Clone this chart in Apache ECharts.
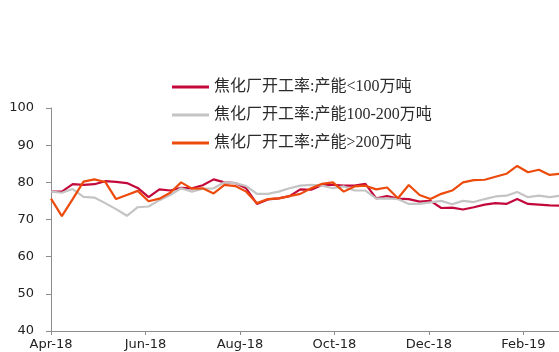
<!DOCTYPE html>
<html>
<head>
<meta charset="utf-8">
<script src="https://cdn.jsdelivr.net/npm/echarts@6/dist/echarts.min.js"></script>
<style>
html,body{margin:0;padding:0;background:#fff;}
#chart{width:559px;height:352px;}
</style>
</head>
<body>
<div id="chart"></div>
<script>
// Weekly observation dates
var dates = [
'2018-04-01','2018-04-08','2018-04-15','2018-04-22','2018-04-29','2018-05-06','2018-05-13','2018-05-20',
'2018-05-27','2018-06-03','2018-06-10','2018-06-17','2018-06-24','2018-07-01','2018-07-08','2018-07-15',
'2018-07-22','2018-07-29','2018-08-05','2018-08-12','2018-08-19','2018-08-26','2018-09-02','2018-09-09',
'2018-09-16','2018-09-23','2018-09-30','2018-10-07','2018-10-14','2018-10-21','2018-10-28','2018-11-04',
'2018-11-11','2018-11-18','2018-11-25','2018-12-02','2018-12-09','2018-12-16','2018-12-23','2018-12-30',
'2019-01-06','2019-01-13','2019-01-20','2019-01-27','2019-02-03','2019-02-10','2019-02-17','2019-02-24'
];
var seriesNames = ['焦化厂开工率:产能<100万吨','焦化厂开工率:产能100-200万吨','焦化厂开工率:产能>200万吨'];
var small = [77.5,77.5,79.5,79.3,79.5,80.3,80.1,79.8,78.5,76.0,78.1,77.8,78.5,78.4,79.2,80.8,
80.0,79.8,78.4,74.2,75.4,75.7,76.3,78.1,78.0,79.3,79.3,79.1,79.1,79.6,75.7,76.3,
75.6,75.5,74.8,75.0,73.1,73.2,72.7,73.3,74.0,74.4,74.2,75.5,74.2,74.0,73.8,73.7];
var medium = [77.5,77.2,78.2,76.1,75.9,74.4,72.8,71.0,73.3,73.5,75.2,76.6,78.4,77.5,78.3,78.4,
80.0,79.8,79.0,76.9,76.9,77.5,78.4,79.1,79.3,79.1,78.4,78.9,77.8,77.8,75.6,75.7,
75.5,74.2,74.2,74.6,75.0,74.1,75.0,74.7,75.5,76.2,76.4,77.4,76.0,76.4,76.0,76.4];
var large = [75.6,70.9,75.5,80.2,80.8,80.1,75.5,76.6,77.7,74.9,75.6,77.2,80.0,78.3,78.4,77.0,
79.3,79.0,77.5,74.4,75.5,75.7,76.3,76.9,78.4,79.6,80.0,77.5,78.9,79.1,78.1,78.6,
75.7,79.3,76.6,75.5,76.9,77.8,80.0,80.6,80.7,81.5,82.3,84.4,82.7,83.4,82.0,82.3];
var xTickLabels = ['Apr-18','Jun-18','Aug-18','Oct-18','Dec-18','Feb-19'];
var yTicks = [40,50,60,70,80,90,100];

var DAY = 86400000;
var t0 = Date.parse(dates[0] + 'T00:00:00Z');
function dayOf(d){ return Math.round((Date.parse(d + 'T00:00:00Z') - t0) / DAY); }
function pairs(vals){ return vals.map(function(v,i){ return [dayOf(dates[i]), v]; }); }
var xTickValues = xTickLabels.map(function(l,i){ return i*61; });

var colors = ['#C3093B','#C4C4C4','#EC4B0C'];
var chart = echarts.init(document.getElementById('chart'), null, {renderer:'canvas'});
var axisFont = "'DejaVu Sans', sans-serif";
chart.setOption({
  animation:false,
  backgroundColor:'#ffffff',
  color: colors,
  grid:{left:51, top:108, bottom:21, right:0, containLabel:false},
  legend:{
    orient:'vertical', left:172, top:79, padding:0, itemWidth:37, itemHeight:3, itemGap:12,
    icon:'rect',
    textStyle:{fontFamily:"'Liberation Serif','Noto Sans CJK SC',serif", fontSize:16, color:'#2a2a2a', lineHeight:16},
    data: seriesNames
  },
  xAxis:{
    type:'value', min:0, max:328, interval:61,
    axisLine:{show:true, lineStyle:{color:'#8c8c8c', width:1}},
    axisTick:{show:true, length:4, inside:false, customValues:xTickValues, lineStyle:{color:'#8c8c8c'}},
    splitLine:{show:false},
    axisLabel:{
      margin:7, color:'#222', fontFamily:axisFont, fontSize:13, customValues:xTickValues,
      formatter:function(v){ var k = Math.round(v/61); return xTickLabels[k] || ''; }
    }
  },
  yAxis:{
    type:'value', min:yTicks[0], max:yTicks[yTicks.length-1], interval:10,
    axisLine:{show:true, lineStyle:{color:'#8c8c8c', width:1}},
    axisTick:{show:true, length:5, lineStyle:{color:'#8c8c8c'}},
    splitLine:{show:false},
    axisLabel:{margin:17, color:'#222', fontFamily:axisFont, fontSize:13}
  },
  series:[
    {name:seriesNames[0], type:'line', data:pairs(small), showSymbol:false, symbol:'none', lineStyle:{width:2.2, color:colors[0]}, itemStyle:{color:colors[0]}},
    {name:seriesNames[1], type:'line', data:pairs(medium), showSymbol:false, symbol:'none', lineStyle:{width:2.2, color:colors[1]}, itemStyle:{color:colors[1]}},
    {name:seriesNames[2], type:'line', data:pairs(large), showSymbol:false, symbol:'none', lineStyle:{width:2.2, color:colors[2]}, itemStyle:{color:colors[2]}}
  ]
});
</script>
</body>
</html>
